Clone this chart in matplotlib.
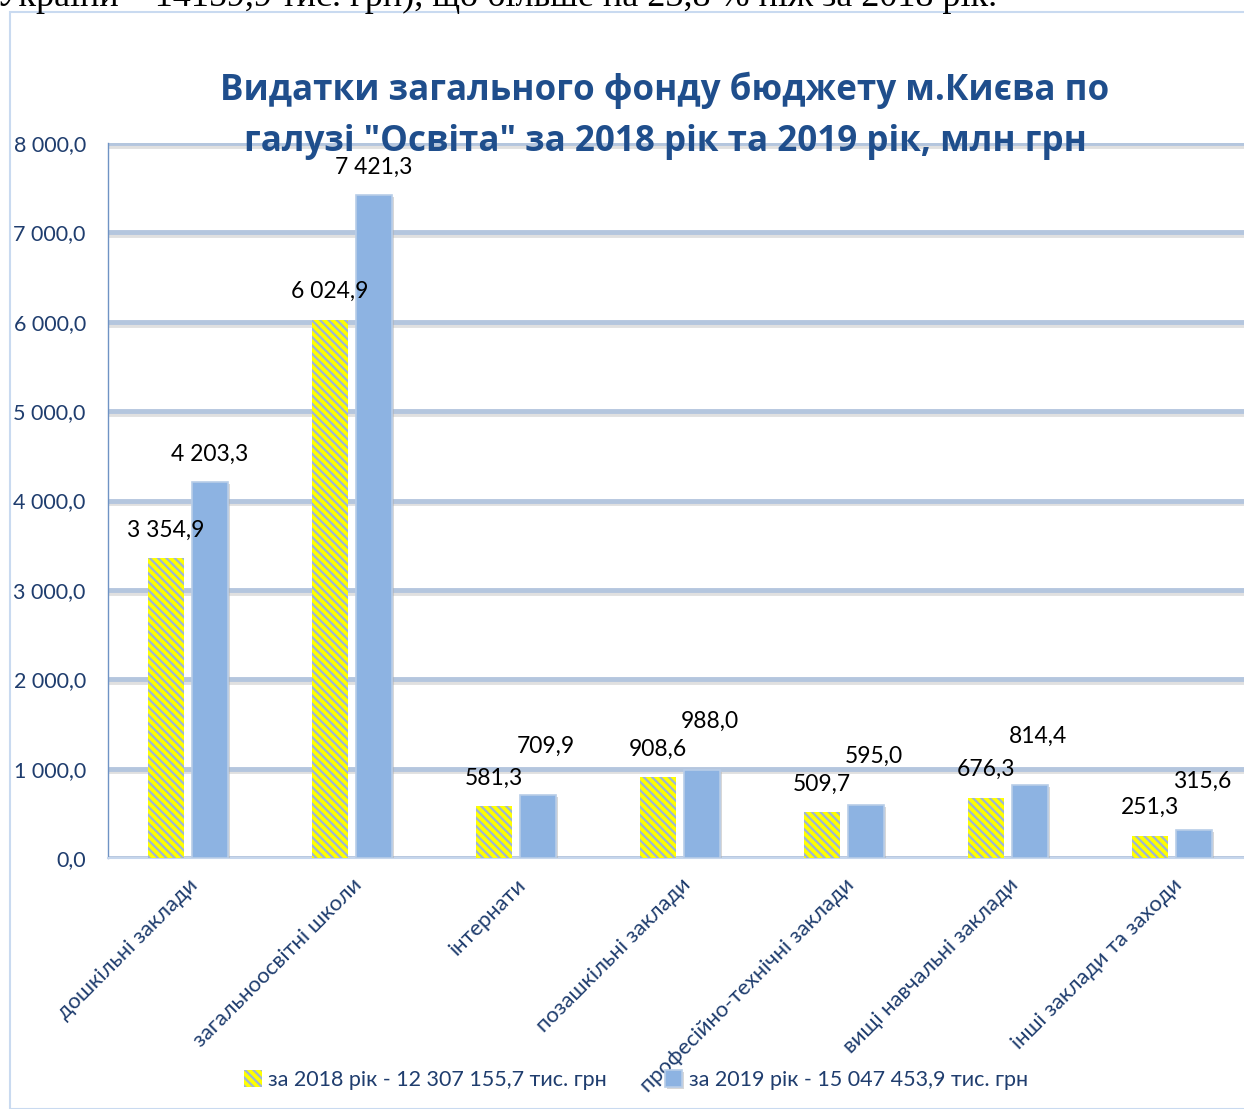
import matplotlib
matplotlib.use("Agg")
import matplotlib.pyplot as plt
from matplotlib.ticker import FuncFormatter
from matplotlib.patches import Rectangle
import matplotlib.patheffects as pe

categories = ["дошкільні заклади", "загальноосвітні школи", "інтернати",
              "позашкільні заклади", "професійно-технічні заклади",
              "вищі навчальні заклади", "інші заклади та заходи"]
values_2018 = [3354.9, 6024.9, 581.3, 908.6, 509.7, 676.3, 251.3]
values_2019 = [4203.3, 7421.3, 709.9, 988.0, 595.0, 814.4, 315.6]
series_names = ["за 2018 рік - 12 307 155,7 тис. грн",
                "за 2019 рік - 15 047 453,9 тис. грн"]
title = 'Видатки загального фонду бюджету м.Києва по\nгалузі "Освіта" за 2018 рік та 2019 рік, млн грн'
top_text = "України – 14159,9 тис. грн), що більше на 23,8 % ніж за 2018 рік."

W, H = 1244, 1109
DPI = 100
DARK = "#1f3d6e"
plt.rcParams["font.family"] = ["Lato", "DejaVu Sans"]
plt.rcParams["hatch.linewidth"] = 1.6
plt.rcParams["hatch.color"] = "#9db5d6"

fig = plt.figure(figsize=(W / DPI, H / DPI), dpi=DPI)

# chart frame
fig.patches.append(Rectangle((10 / W, 0), 1.2, 1 - 12 / H, transform=fig.transFigure,
                             fill=False, edgecolor="#c9daf0", linewidth=1.5))
# clipped text from the page above
fig.text(-4 / W, 1 - 6 / H, top_text, family=["Liberation Serif"], fontsize=26,
         va="baseline", ha="left", color="black")

ax = fig.add_axes([108 / W, (H - 858) / H, (W - 108) / W, (858 - 143) / H])
x = list(range(len(categories)))
off = 0.134
bw = 0.215
xs1 = [i - off for i in x]
xs2 = [i + off for i in x]

shadow = [pe.SimplePatchShadow(offset=(1.5, -1.5), shadow_rgbFace="#b0b0b0", alpha=0.5), pe.Normal()]
b1 = ax.bar(xs1, values_2018, width=bw, color="#ffff00", hatch="\\\\\\\\",
            edgecolor="#9db5d6", linewidth=0, zorder=3, label=series_names[0])
b2 = ax.bar(xs2, values_2019, width=bw, color="#8db3e2", edgecolor="#b8cde8",
            linewidth=1.2, zorder=3, label=series_names[1])
for r in b2:
    r.set_path_effects(shadow)

ax.set_xlim(-80 / 164, 6 + 72 / 164)
ax.set_ylim(0, 8000)
ax.set_yticks(range(0, 8001, 1000))
fmt = lambda v, p: f"{v:,.1f}".replace(",", " ").replace(".", ",")
ax.yaxis.set_major_formatter(FuncFormatter(fmt))
ax.tick_params(axis="y", length=0, labelsize=15.5, labelcolor=DARK, pad=16)
ax.grid(axis="y", color="#b4c6de", linewidth=3.5, zorder=0,
        path_effects=[pe.SimpleLineShadow(offset=(0, -2), shadow_color="#cccccc", alpha=0.6), pe.Normal()])
ax.set_axisbelow(True)
for s in ["top", "right"]:
    ax.spines[s].set_visible(False)
ax.spines["left"].set_color("#6f93c4")
ax.spines["left"].set_linewidth(1)
ax.spines["bottom"].set_color("#c6d6ec")
ax.spines["bottom"].set_linewidth(1.5)

ax.set_xticks(x)
ax.set_xticklabels(categories, rotation=45, ha="right", rotation_mode="anchor",
                   fontsize=15.8, color=DARK)
ax.tick_params(axis="x", length=0, pad=12)

for xx, v in zip(xs1, values_2018):
    ax.annotate(fmt(v, None), (xx, v), xytext=(0, 20), textcoords="offset points",
                ha="center", va="center", fontsize=16.5, color="black", zorder=5)
for xx, v in zip(xs2, values_2019):
    dy = 20 if v > 2000 else 35
    dx = 0 if v > 2000 else 6
    ax.annotate(fmt(v, None), (xx, v), xytext=(dx, dy), textcoords="offset points",
                ha="center", va="center", fontsize=16.5, color="black", zorder=5)

fig.text(665 / W, 1 - 116 / H, title, ha="center", va="center", fontsize=25.2,
         fontweight="bold", color="#1f4e8c", family=["Open Sans", "DejaVu Sans"],
         linespacing=1.55)

leg = fig.legend(handles=[b1, b2], loc="center", bbox_to_anchor=(636 / W, 1 - 1080 / H),
                 ncol=2, frameon=False, fontsize=15.5, handlelength=0.8, handleheight=0.8,
                 handletextpad=0.3, columnspacing=2.7, labelcolor=DARK)

fig.savefig("out.png", dpi=DPI)
